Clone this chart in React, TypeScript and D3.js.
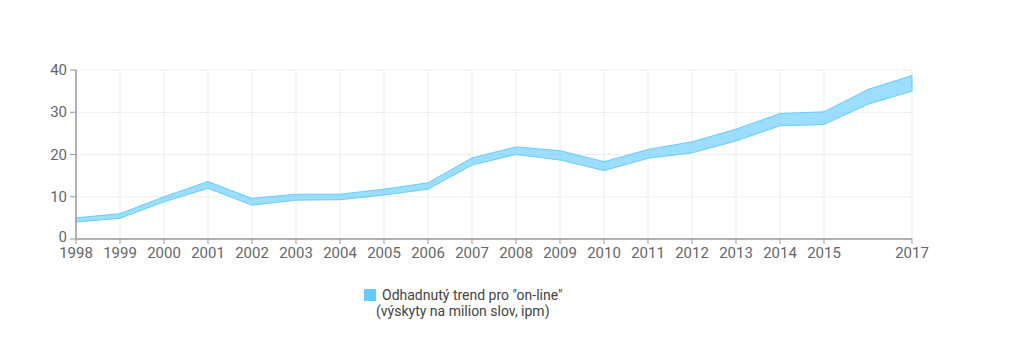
import * as d3 from "d3";

const years = [1998, 1999, 2000, 2001, 2002, 2003, 2004, 2005, 2006, 2007, 2008, 2009, 2010, 2011, 2012, 2013, 2014, 2015, 2016, 2017];
const lower = [4.0, 4.9, 8.8, 12.0, 8.0, 9.2, 9.3, 10.4, 11.8, 17.5, 20.0, 18.7, 16.2, 19.1, 20.4, 23.2, 26.8, 27.1, 31.9, 35.0];
const upper = [5.0, 6.0, 10.0, 13.6, 9.6, 10.6, 10.6, 11.8, 13.3, 19.2, 21.8, 20.9, 18.3, 21.2, 23.0, 26.0, 29.7, 30.1, 35.4, 38.7];
const tickYears = [1998, 1999, 2000, 2001, 2002, 2003, 2004, 2005, 2006, 2007, 2008, 2009, 2010, 2011, 2012, 2013, 2014, 2015, 2017];
const yTicks = [0, 10, 20, 30, 40];
const legendLines = ['Odhadnutý trend pro "on-line"', "(výskyty na milion slov, ipm)"];

const W = 1024, H = 362;
const x = d3.scaleLinear().domain([1998, 2017]).range([76, 912]);
const y = d3.scaleLinear().domain([0, 40]).range([239, 70]);

export default function App() {
  const band = d3.area<number>()
    .x((_d, i) => x(years[i]))
    .y0((_d, i) => y(lower[i]))
    .y1((d) => y(d))(upper);
  const font = "Roboto, sans-serif";
  return (
    <svg width={W} height={H} style={{ position: "absolute", left: 0, top: 0 }} fontFamily={font}>
      <rect width={W} height={H} fill="#fff" />
      {yTicks.filter(t => t > 0).map(t => (
        <line key={t} x1={x(1998)} x2={x(2017)} y1={y(t)} y2={y(t)} stroke="#dcdcdc" strokeDasharray="1,1" />
      ))}
      {tickYears.slice(1).map(t => (
        <line key={t} x1={x(t)} x2={x(t)} y1={y(40)} y2={y(0)} stroke="#dcdcdc" strokeDasharray="1,1" />
      ))}
      <path d={band || ""} fill="rgba(102,204,255,0.65)" stroke="#66ccff" strokeWidth={1} />
      <line x1={x(1998)} x2={x(1998)} y1={y(40)} y2={y(0)} stroke="#999" strokeWidth={1.5} />
      <line x1={x(1998)} x2={x(2017)} y1={y(0)} y2={y(0)} stroke="#999" strokeWidth={1.5} />
      {yTicks.map(t => (
        <g key={t}>
          <line x1={x(1998) - 6} x2={x(1998)} y1={y(t)} y2={y(t)} stroke="#999" />
          <text x={x(1998) - 9} y={y(t) + (t === 0 ? 3 : 5)} textAnchor="end" fontSize={15} fill="#666">{t}</text>
        </g>
      ))}
      {tickYears.map(t => (
        <g key={t}>
          <line x1={x(t)} x2={x(t)} y1={y(0)} y2={y(0) + 5} stroke="#999" />
          <text x={x(t)} y={y(0) + 19} textAnchor="middle" fontSize={15} fill="#666">{t}</text>
        </g>
      ))}
      <rect x={364} y={289} width={12} height={12} fill="#66ccff" />
      <text x={382} y={300} fontSize={14} fill="#444">{legendLines[0]}</text>
      <text x={376} y={316} fontSize={14} fill="#444">{legendLines[1]}</text>
    </svg>
  );
}
